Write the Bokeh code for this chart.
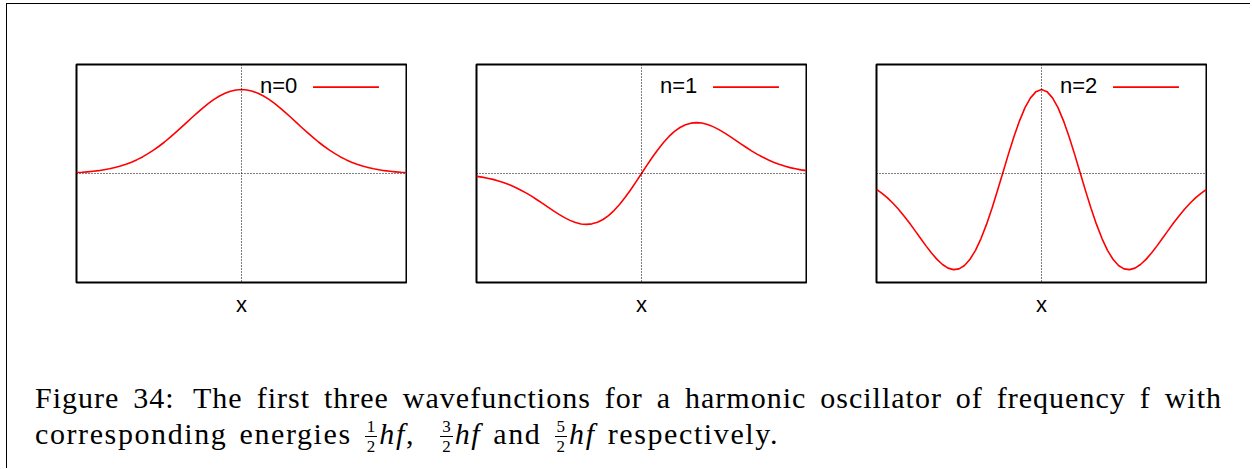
from bokeh.plotting import figure
from bokeh.models import Div, Range1d, Span, Label, FixedTicker
from bokeh.layouts import row, column
from bokeh.embed import file_html
from bokeh.resources import INLINE

# ---- data ----
X = [-3.0, -2.9, -2.8, -2.7, -2.6, -2.5, -2.4, -2.3, -2.2, -2.1, -2.0, -1.9, -1.8, -1.7, -1.6,
     -1.5, -1.4, -1.3, -1.2, -1.1, -1.0, -0.9, -0.8, -0.7, -0.6, -0.5, -0.4, -0.3, -0.2, -0.1,
     0.0, 0.1, 0.2, 0.3, 0.4, 0.5, 0.6, 0.7, 0.8, 0.9, 1.0, 1.1, 1.2, 1.3, 1.4,
     1.5, 1.6, 1.7, 1.8, 1.9, 2.0, 2.1, 2.2, 2.3, 2.4, 2.5, 2.6, 2.7, 2.8, 2.9, 3.0]
PSI0 = [0.009, 0.011, 0.015, 0.020, 0.026, 0.034, 0.043, 0.055, 0.068, 0.085, 0.104, 0.127, 0.152, 0.182, 0.214,
        0.250, 0.289, 0.331, 0.375, 0.420, 0.467, 0.514, 0.559, 0.603, 0.643, 0.680, 0.711, 0.736, 0.755, 0.766,
        0.770, 0.766, 0.755, 0.736, 0.711, 0.680, 0.643, 0.603, 0.559, 0.514, 0.467, 0.420, 0.375, 0.331, 0.289,
        0.250, 0.214, 0.182, 0.152, 0.127, 0.104, 0.085, 0.068, 0.055, 0.043, 0.034, 0.026, 0.020, 0.015, 0.011, 0.009]
PSI1 = [-0.026, -0.033, -0.043, -0.054, -0.068, -0.085, -0.104, -0.126, -0.151, -0.178, -0.208, -0.241, -0.274, -0.309, -0.343,
        -0.375, -0.405, -0.430, -0.450, -0.463, -0.467, -0.462, -0.447, -0.422, -0.386, -0.340, -0.284, -0.221, -0.151, -0.077,
        0.000, 0.077, 0.151, 0.221, 0.284, 0.340, 0.386, 0.422, 0.447, 0.462, 0.467, 0.463, 0.450, 0.430, 0.405,
        0.375, 0.343, 0.309, 0.274, 0.241, 0.208, 0.178, 0.151, 0.126, 0.104, 0.085, 0.068, 0.054, 0.043, 0.033, 0.026]
PSI2 = [-0.145, -0.182, -0.224, -0.273, -0.328, -0.389, -0.455, -0.524, -0.594, -0.664, -0.729, -0.788, -0.835, -0.868, -0.882,
        -0.875, -0.844, -0.787, -0.705, -0.597, -0.467, -0.318, -0.157, 0.012, 0.180, 0.340, 0.483, 0.604, 0.694, 0.751,
        0.770, 0.751, 0.694, 0.604, 0.483, 0.340, 0.180, 0.012, -0.157, -0.318, -0.467, -0.597, -0.705, -0.787, -0.844,
        -0.875, -0.882, -0.868, -0.835, -0.788, -0.729, -0.664, -0.594, -0.524, -0.455, -0.389, -0.328, -0.273, -0.224, -0.182, -0.145]
SERIES = [PSI0, PSI1, PSI2]
LABELS = ["n=0", "n=1", "n=2"]
X_LABEL = "x"
X_RANGE = (-3, 3)
Y_RANGE = (-1, 1)
CAPTION_LINE1 = "Figure 34: The first three wavefunctions for a harmonic oscillator of frequency f with"
CAPTION_PRE = "corresponding energies"
NUMERATORS = ["1", "3", "5"]
DENOMINATOR = "2"
CAPTION_POST = "respectively."

# ---- styles ----
RED = "#ff0000"
SANS = "Liberation Sans"
KEY = dict(text_x=0.336, text_y=0.805, line_x0=1.30, line_x1=2.50, line_y=0.792)

figs = []
for ys, lab in zip(SERIES, LABELS):
    p = figure(frame_width=330, frame_height=218, min_border_left=69, min_border_right=1,
               min_border_top=60, min_border_bottom=98,
               x_range=Range1d(*X_RANGE), y_range=Range1d(*Y_RANGE),
               y_axis_location=None, output_backend="svg", toolbar_location=None)
    p.outline_line_color = "black"
    p.outline_line_width = 2
    p.outline_line_alpha = 1
    p.grid.visible = False
    ax = p.xaxis[0]
    ax.ticker = FixedTicker(ticks=[])
    ax.axis_line_color = None
    ax.major_tick_line_color = None
    ax.minor_tick_line_color = None
    ax.major_tick_out = 0
    ax.major_tick_in = 0
    ax.minor_tick_out = 0
    ax.minor_tick_in = 0
    ax.major_label_standoff = 0
    ax.major_label_text_font_size = "0px"
    ax.axis_label = X_LABEL
    ax.axis_label_text_font = SANS
    ax.axis_label_text_font_size = "22px"
    ax.axis_label_text_font_style = "normal"
    ax.axis_label_text_color = "black"
    ax.axis_label_standoff = 9

    p.add_layout(Span(location=0, dimension="width", line_color="black", line_width=1.1, line_dash="1 2"))
    p.add_layout(Span(location=0, dimension="height", line_color="black", line_width=1.1, line_dash="1 2"))

    p.line(X, ys, line_color=RED, line_width=1.6, line_join="round")

    p.add_layout(Label(x=KEY["text_x"], y=KEY["text_y"], text=lab, text_font=SANS,
                       text_font_size="22px", text_color="black", text_baseline="middle",
                       text_align="left"))
    p.segment(x0=[KEY["line_x0"]], y0=[KEY["line_y"]], x1=[KEY["line_x1"]], y1=[KEY["line_y"]],
              line_color=RED, line_width=1.6)
    figs.append(p)


def frac(n):
    return ('<span style="display:inline-block;vertical-align:-8px;font-size:17px;line-height:19px;'
            'text-align:center;letter-spacing:0;word-spacing:0;margin:0 2px 0 1px">'
            f'<span style="display:block;border-bottom:1px solid #000;padding:0 2px">{n}</span>'
            f'<span style="display:block">{DENOMINATOR}</span></span>')


line1 = CAPTION_LINE1.replace("34:", "34:<span style=\"margin-left:5px\"></span>")
line2 = (f"{CAPTION_PRE} {frac(NUMERATORS[0])}<i>hf</i>,&nbsp; {frac(NUMERATORS[1])}<i>hf</i> and "
         f"{frac(NUMERATORS[2])}<i>hf</i> {CAPTION_POST}")
html = ('<div style="font-family:\'Liberation Serif\', \'DejaVu Serif\', serif;font-size:30px;line-height:36px;'
        'color:#000;width:1187px">'
        f'<div style="text-align:justify;text-align-last:justify;letter-spacing:1px">{line1}</div>'
        f'<div style="text-align:left;letter-spacing:1.6px;word-spacing:3px">{line2}</div></div>')
cap = Div(text=html, width=1187, height=88, margin=(0, 0, 0, 28))

root = column(row(*figs, spacing=0), cap, spacing=0, width=1244,
              margin=(3, 0, 0, 6),
              styles={"border-top": "1px solid #000", "border-left": "1px solid #000"})

open("out.html", "w").write(file_html(root, INLINE))
